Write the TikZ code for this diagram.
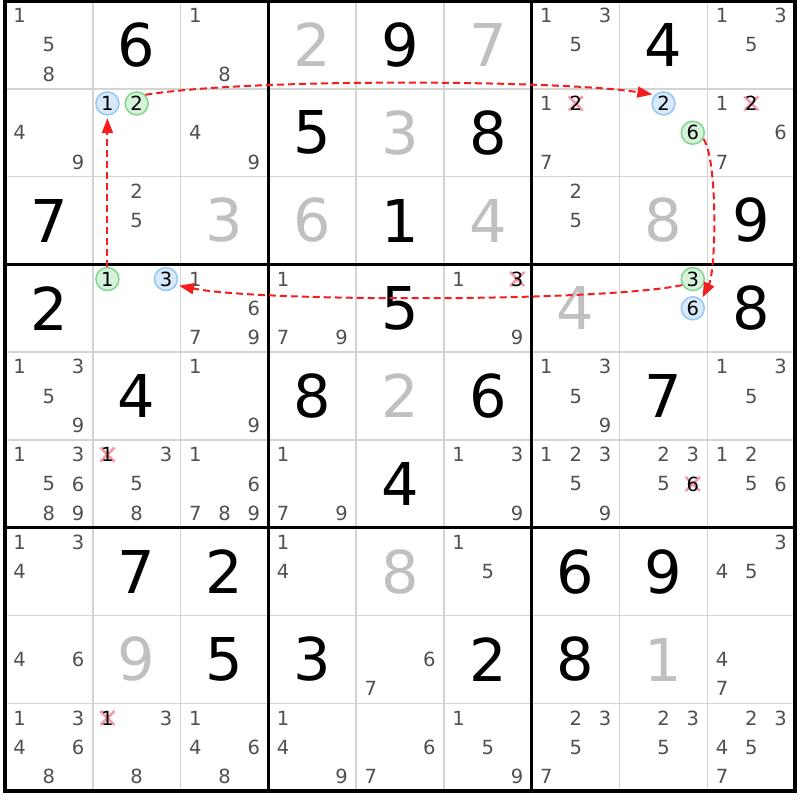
\documentclass[tikz,border=0pt]{standalone}
\usepackage{fontspec}
\setmainfont{DejaVu Sans}
\usetikzlibrary{arrows.meta}
\definecolor{candc}{HTML}{505050}
\definecolor{solvc}{HTML}{C0C0C0}
\definecolor{thinc}{HTML}{D4D4D4}
\definecolor{bluef}{HTML}{D8E9FB}
\definecolor{blued}{HTML}{96C6F4}
\definecolor{greenf}{HTML}{D6F2DA}
\definecolor{greend}{HTML}{80D68C}
\definecolor{chainc}{HTML}{F41E1E}
\definecolor{xcol}{HTML}{F39AA6}
\newcommand\cxy[3]{\pgfmathsetmacro\px{5+87.8*#2+14.63+29.27*mod(#3-1,3)}\pgfmathsetmacro\py{1+87.8*#1+14.63+29.27*floor((#3-1)/3)}}
\newcommand\giv[3]{\node[givst] (g-#1-#2) at ({5+87.8*(#2+0.5)},{1+87.8*(#1+0.5)}) {#3};}
\newcommand\sol[3]{\node[solst] (s-#1-#2) at ({5+87.8*(#2+0.5)},{1+87.8*(#1+0.5)}) {#3};}
\newcommand\cand[3]{\foreach \d in {#3}{\cxy{#1}{#2}{\d}\node[candst] (c-#1-#2-\d) at (\px,\py) {\d};}}
\newcommand\elim[3]{\cxy{#1}{#2}{#3}\draw[xst] ({\px-7},{\py-7}) -- ({\px+7},{\py+7}) ({\px-7},{\py+7}) -- ({\px+7},{\py-7}); \node[elimst] (e-#1-#2-#3) at (\px,\py) {#3};}
\newcommand\hl[4]{\cxy{#1}{#2}{#3}\node[#4] (h-#1-#2-#3) at (\px,\py) {#3};}
\begin{document}
\begin{tikzpicture}[x=1pt,y=-1pt,
  givst/.style={font=\fontsize{59}{60}\selectfont, text=black, inner sep=0pt},
  solst/.style={font=\fontsize{59}{60}\selectfont, text=solvc, inner sep=0pt},
  candst/.style={font=\fontsize{19.5}{20}\selectfont, text=candc, inner sep=0pt},
  elimst/.style={font=\fontsize{19.5}{20}\selectfont, text=black, inner sep=0pt},
  xst/.style={draw=xcol, line width=2.6pt},
  bluehl/.style={circle, draw=blued, fill=bluef, line width=1.5pt, minimum size=23pt, inner sep=0pt, font=\fontsize{19.5}{20}\selectfont, text=black},
  greenhl/.style={circle, draw=greend, fill=greenf, line width=1.5pt, minimum size=23pt, inner sep=0pt, font=\fontsize{19.5}{20}\selectfont, text=black},
  chain/.style={draw=chainc, line width=2pt, dash pattern=on 7pt off 4pt, -{Triangle[length=15pt,width=11pt]}, shorten >=2.5pt}
]
\useasboundingbox[fill=white] (0,0) rectangle (800,800);
% grid
\foreach \i in {0,...,9}{
  \draw[thinc, line width=1.7pt] ({5+87.8*\i},1) -- ({5+87.8*\i},791.2);
  \draw[thinc, line width=1.7pt] (5,{1+87.8*\i}) -- (795.2,{1+87.8*\i});
}
\foreach \i in {3,6}{
  \draw[black, line width=3pt] ({5+87.8*\i},1) -- ({5+87.8*\i},791.2);
  \draw[black, line width=3pt] (5,{1+87.8*\i}) -- (795.2,{1+87.8*\i});
}
\draw[black, line width=3.5pt] (5,1) rectangle (795.2,791.2);
% givens
\giv{0}{1}{6}\giv{0}{4}{9}\giv{0}{7}{4}
\giv{1}{3}{5}\giv{1}{5}{8}
\giv{2}{0}{7}\giv{2}{4}{1}\giv{2}{8}{9}
\giv{3}{0}{2}\giv{3}{4}{5}\giv{3}{8}{8}
\giv{4}{1}{4}\giv{4}{3}{8}\giv{4}{5}{6}\giv{4}{7}{7}
\giv{5}{4}{4}
\giv{6}{1}{7}\giv{6}{2}{2}\giv{6}{6}{6}\giv{6}{7}{9}
\giv{7}{2}{5}\giv{7}{3}{3}\giv{7}{5}{2}\giv{7}{6}{8}
% solved
\sol{0}{3}{2}\sol{0}{5}{7}
\sol{1}{4}{3}
\sol{2}{2}{3}\sol{2}{3}{6}\sol{2}{5}{4}\sol{2}{7}{8}
\sol{3}{6}{4}
\sol{4}{4}{2}
\sol{6}{4}{8}
\sol{7}{1}{9}\sol{7}{7}{1}
% candidates
\cand{0}{0}{1,5,8}\cand{0}{2}{1,8}\cand{0}{6}{1,3,5}\cand{0}{8}{1,3,5}
\cand{1}{0}{4,9}\cand{1}{2}{4,9}\cand{1}{6}{1,7}\cand{1}{8}{1,6,7}
\cand{2}{1}{2,5}\cand{2}{6}{2,5}
\cand{3}{2}{1,6,7,9}\cand{3}{3}{1,7,9}\cand{3}{5}{1,9}
\cand{4}{0}{1,3,5,9}\cand{4}{2}{1,9}\cand{4}{6}{1,3,5,9}\cand{4}{8}{1,3,5}
\cand{5}{0}{1,3,5,6,8,9}\cand{5}{1}{3,5,8}\cand{5}{2}{1,6,7,8,9}\cand{5}{3}{1,7,9}
\cand{5}{5}{1,3,9}\cand{5}{6}{1,2,3,5,9}\cand{5}{7}{2,3,5}\cand{5}{8}{1,2,5,6}
\cand{6}{0}{1,3,4}\cand{6}{3}{1,4}\cand{6}{5}{1,5}\cand{6}{8}{3,4,5}
\cand{7}{0}{4,6}\cand{7}{4}{6,7}\cand{7}{8}{4,7}
\cand{8}{0}{1,3,4,6,8}\cand{8}{1}{3,8}\cand{8}{2}{1,4,6,8}\cand{8}{3}{1,4,9}
\cand{8}{4}{6,7}\cand{8}{5}{1,5,9}\cand{8}{6}{2,3,5,7}\cand{8}{7}{2,3,5}\cand{8}{8}{2,3,4,5,7}
% eliminations
\elim{1}{6}{2}\elim{1}{8}{2}\elim{3}{5}{3}\elim{5}{1}{1}\elim{5}{7}{6}\elim{8}{1}{1}
% highlighted candidates
\hl{1}{1}{1}{bluehl}\hl{1}{1}{2}{greenhl}
\hl{1}{7}{2}{bluehl}\hl{1}{7}{6}{greenhl}
\hl{3}{1}{1}{greenhl}\hl{3}{1}{3}{bluehl}
\hl{3}{7}{3}{greenhl}\hl{3}{7}{6}{bluehl}
% chain
\draw[chain] (h-3-1-1.north) -- (h-1-1-1.south);
\draw[chain] (h-1-1-2.north east) .. controls (250,78) and (560,80) .. (h-1-7-2.north west);
\draw[chain] (h-1-7-6.-30) .. controls (718,160) and (716,270) .. (h-3-7-6.north east);
\draw[chain] (h-3-7-3.210) .. controls (600,302) and (260,302) .. (h-3-1-3.-30);
\end{tikzpicture}
\end{document}
